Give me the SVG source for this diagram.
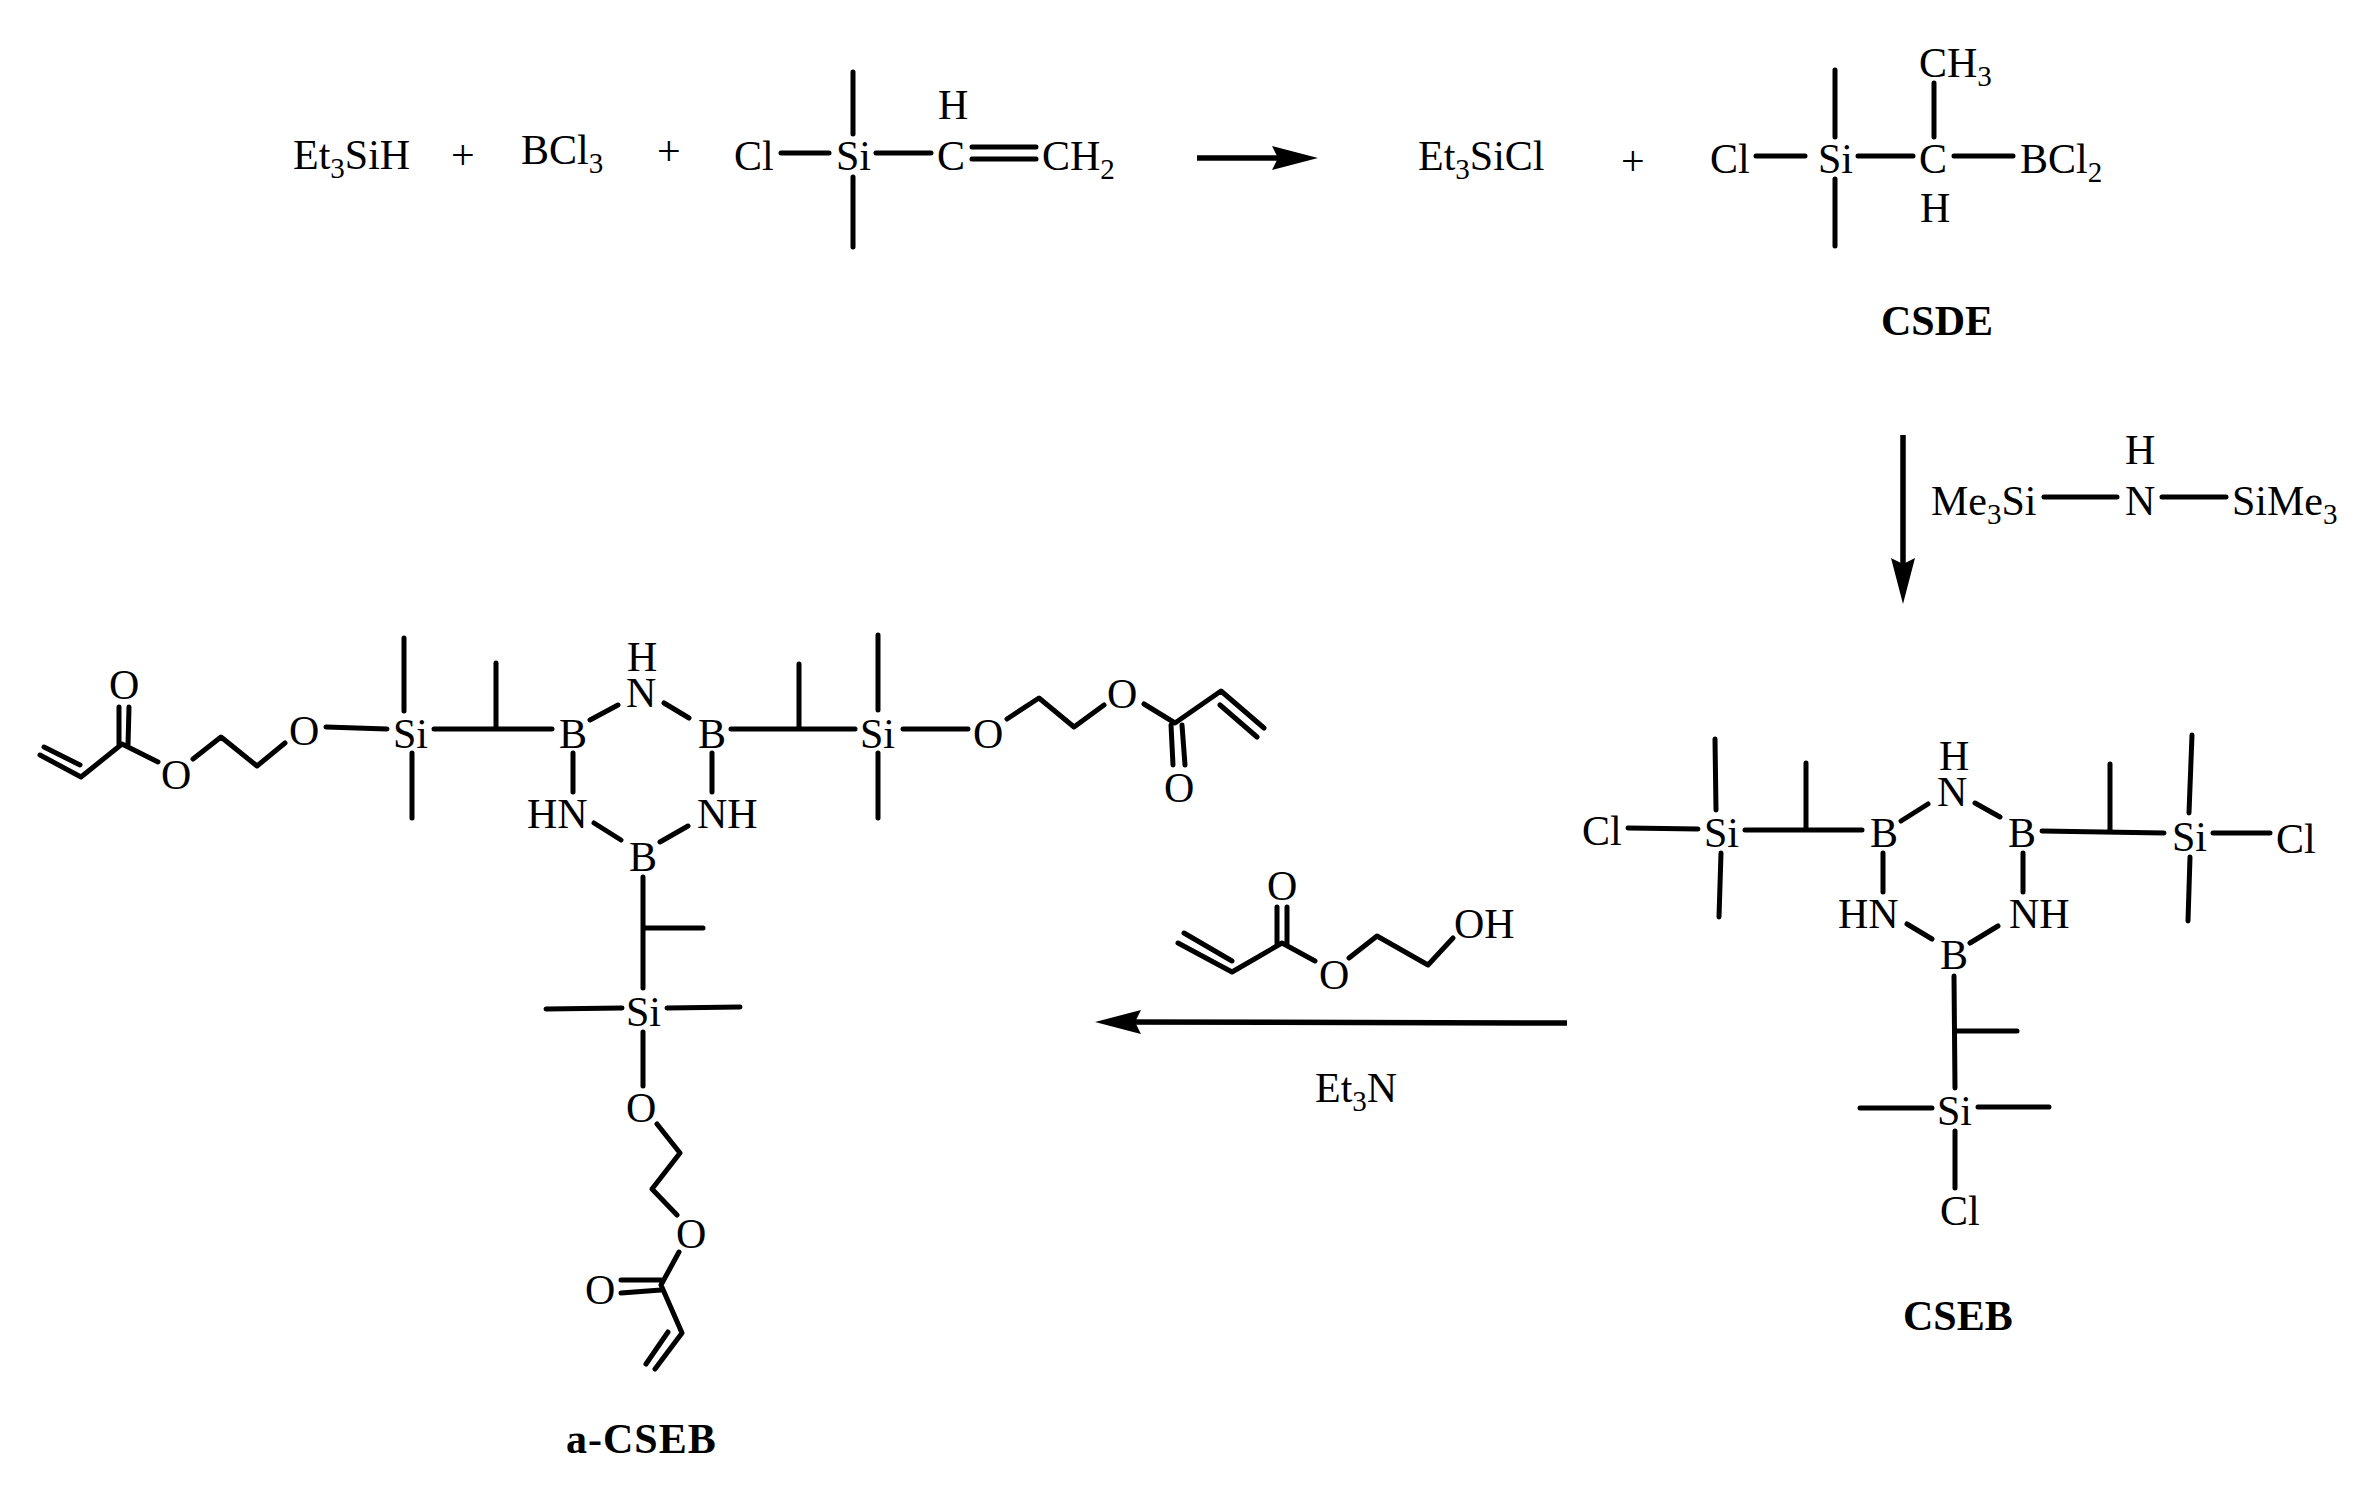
<svg xmlns="http://www.w3.org/2000/svg" width="2377" height="1497" viewBox="0 0 2377 1497">
<style>
text{font-family:"Liberation Serif","Times New Roman",serif;font-size:42px;fill:#000;transform:translateY(0.5px)}
.b{font-weight:bold}
.s{font-size:29px}
path.bond,line.arrow{fill:none;stroke:#000;stroke-linecap:round;stroke-linejoin:round}
path.bond{stroke-width:5}
line.arrow{stroke-width:5.5;stroke-linecap:butt}
</style>
<defs>
<marker id="head" markerUnits="userSpaceOnUse" markerWidth="46" markerHeight="24" viewBox="0 0 46 24" refX="20" refY="12" orient="auto"><path d="M46,12 L0,0 L6,12 L0,24Z" fill="#000"/></marker>
</defs>
<rect width="2377" height="1497" fill="#fff"/>
<g id="connectors">
<line class="arrow" x1="1197" y1="158" x2="1292" y2="158" marker-end="url(#head)"/>
<line class="arrow" x1="1903" y1="435" x2="1903" y2="578" marker-end="url(#head)"/>
<line class="arrow" x1="1567" y1="1023" x2="1121" y2="1022" marker-end="url(#head)"/>
</g>
<g id="et3sih"><text x="293" y="168">Et<tspan class="s" dy="9">3</tspan><tspan dy="-9">SiH</tspan></text></g>
<g id="plus-1"><text x="451" y="168">+</text></g>
<g id="bcl3"><text x="521" y="163">BCl<tspan class="s" dy="9">3</tspan></text></g>
<g id="plus-2"><text x="657" y="164">+</text></g>
<g id="vinylsilane">
<path class="bond" d="M781,153H829M853,72V134M853,177V247M876,153H931M972,147H1036M972,159H1036"/>
<text x="734" y="169">Cl</text><text x="836" y="169">Si</text><text x="937" y="169">C</text><text x="938" y="118">H</text>
<text x="1042" y="169">CH<tspan class="s" dy="9">2</tspan></text>
</g>
<g id="et3sicl"><text x="1418" y="169">Et<tspan class="s" dy="9">3</tspan><tspan dy="-9">SiCl</tspan></text></g>
<g id="plus-3"><text x="1621" y="174">+</text></g>
<g id="csde">
<path class="bond" d="M1756,156H1805M1835,70V137M1835,179V246M1858,156H1913M1954,156H2013M1934,83V137"/>
<text x="1710" y="172">Cl</text><text x="1818" y="172">Si</text><text x="1919" y="172">C</text>
<text x="2020" y="172">BCl<tspan class="s" dy="9">2</tspan></text>
<text x="1919" y="76">CH<tspan class="s" dy="9">3</tspan></text>
<text x="1920" y="221">H</text>
<text class="b" x="1881" y="334">CSDE</text>
</g>
<g id="hmds">
<path class="bond" d="M2044,497H2117M2162,497H2226"/>
<text x="1931" y="514">Me<tspan class="s" dy="9">3</tspan><tspan dy="-9">Si</tspan></text>
<text x="2125" y="514">N</text><text x="2125" y="463">H</text>
<text x="2232" y="514">SiMe<tspan class="s" dy="9">3</tspan></text>
</g>
<g id="cseb">
<path class="bond" d="M1628,828L1698,829M1715,739L1716,810M1721,853L1719,917M1745,830H1862M1806,763V830M1901,821L1928,804M1975,803L2000,817M2042,831L2164,833M2110,764V831M2192,735L2189,813M2190,857L2188,921M2213,833H2270M1883,853V892M2023,853V892M1907,924L1932,939M1998,926L1970,943M1954,976L1955,1088M1955,1031H2017M1860,1108H1932M1978,1107H2049M1955,1131V1188"/>
<text x="1582" y="844">Cl</text><text x="1704" y="846">Si</text><text x="1870" y="846">B</text>
<text x="1939" y="769">H</text><text x="1937" y="805">N</text><text x="2008" y="846">B</text>
<text x="2172" y="850">Si</text><text x="2276" y="852">Cl</text>
<text x="1838" y="927">HN</text><text x="2009" y="927">NH</text><text x="1940" y="968">B</text>
<text x="1937" y="1124">Si</text><text x="1940" y="1224">Cl</text>
<text class="b" x="1903" y="1329">CSEB</text>
</g>
<g id="hea">
<path class="bond" d="M1184,933L1232,961M1178,943L1232,972L1282,943L1315,961M1277,907V943M1287,907V943M1349,958L1377,936L1428,965L1453,938"/>
<text x="1267" y="899">O</text><text x="1319" y="988">O</text><text x="1454" y="937">OH</text>
</g>
<g id="et3n"><text x="1315" y="1101">Et<tspan class="s" dy="9">3</tspan><tspan dy="-9">N</tspan></text></g>
<g id="a-cseb">
<path class="bond" d="M44,747L80,765M40,755L81,777L122,744L158,762M119,707V745M129,707L128,745M193,759L221,737L257,766L285,743M326,727L387,729M404,638V711M412,753V818M434,729H552M496,663V729M573,753V792M594,823L621,840M590,720L618,705M664,703L689,718M731,729H855M799,664V729M712,753V792M688,826L660,842M878,635V710M878,753V818M903,729H968M1007,719L1039,698L1074,727L1104,705M1144,704L1175,723L1221,691L1264,728M1220,705L1257,737M1171,725L1173,765M1182,725L1185,765M643,877V988M643,928H703M546,1009L622,1008M667,1008L740,1007M643,1032V1086M657,1124L680,1153L652,1189L677,1215M679,1252L661,1285L682,1333L655,1369M668,1332L646,1364M621,1280L661,1280M621,1293L661,1290"/>
<text x="109" y="698">O</text><text x="161" y="788">O</text><text x="289" y="744">O</text><text x="393" y="747">Si</text>
<text x="559" y="747">B</text><text x="627" y="670">H</text><text x="626" y="706">N</text>
<text x="698" y="747">B</text><text x="527" y="827">HN</text><text x="697" y="827">NH</text><text x="629" y="870">B</text>
<text x="860" y="747">Si</text><text x="973" y="747">O</text><text x="1107" y="707">O</text><text x="1164" y="801">O</text>
<text x="626" y="1025">Si</text><text x="626" y="1121">O</text><text x="676" y="1247">O</text><text x="585" y="1303">O</text>
<text class="b" x="566" y="1452" style="letter-spacing:1px">a-CSEB</text>
</g>
</svg>
